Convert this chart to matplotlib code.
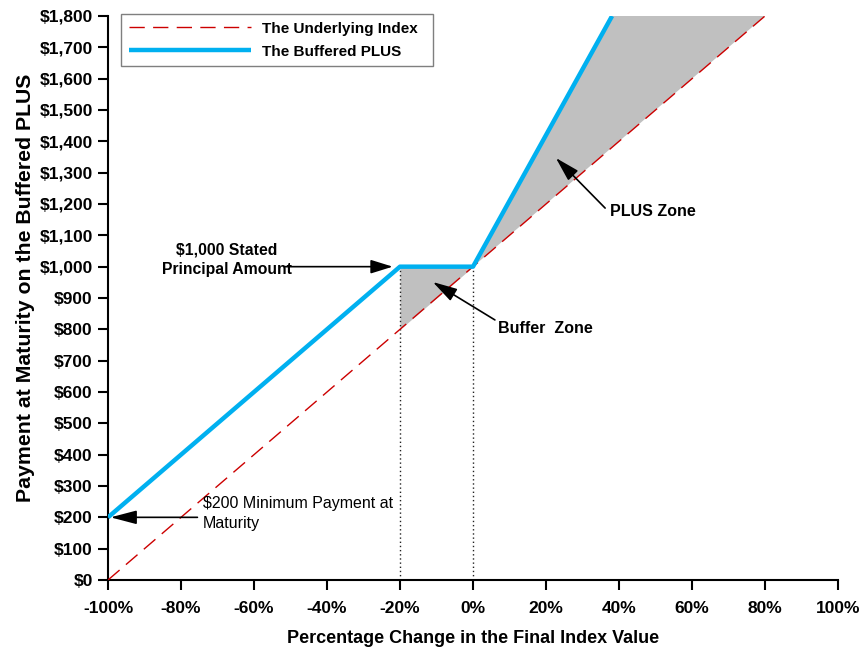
import matplotlib
matplotlib.use("Agg")
import matplotlib.pyplot as plt
from matplotlib.ticker import FuncFormatter

plt.rcParams['font.family'] = ['Liberation Sans', 'DejaVu Sans']

# Data
index_change = [-100, 80]            # % change in final index value
index_payment = [0, 1800]            # underlying index payment ($)
plus_change = [-100, -20, 0, 38.1]   # % change
plus_payment = [200, 1000, 1000, 1800]
buffer_x = [-20, 0]
xticks = [-100, -80, -60, -40, -20, 0, 20, 40, 60, 80, 100]
yticks = list(range(0, 1801, 100))

fig = plt.figure(figsize=(8.63, 6.52), dpi=100)
ax = fig.add_axes([108/863, 1-580/652, 730/863, (580-16)/652])

grey = '#C0C0C0'
# Buffer zone fill
ax.fill_between(buffer_x, [800, 1000], [1000, 1000], color=grey, lw=0, zorder=1)
# PLUS zone fill
ax.fill([0, 38.1, 80], [1000, 1800, 1800], color=grey, lw=0, zorder=1)

ax.plot(index_change, index_payment, color='#CC0000', lw=1.0,
        linestyle=(0, (11, 6)), label='The Underlying Index', zorder=3)
ax.plot(plus_change, plus_payment, color='#00B0F0', lw=3.2,
        solid_capstyle='butt', label='The Buffered PLUS', zorder=4)

for bx in buffer_x:
    ax.plot([bx, bx], [0, 1000], color='#222222', lw=1.0, linestyle=(0, (1, 2)), zorder=2)

ax.set_xlim(-100, 100)
ax.set_ylim(0, 1800)
ax.set_xticks(xticks)
ax.set_yticks(yticks)
ax.xaxis.set_major_formatter(FuncFormatter(lambda v, p: f"{int(v)}%"))
ax.yaxis.set_major_formatter(FuncFormatter(lambda v, p: f"${int(v):,}"))
for s in ['top', 'right']:
    ax.spines[s].set_visible(False)
for s in ['left', 'bottom']:
    ax.spines[s].set_linewidth(1.5)
ax.tick_params(direction='out', length=7, width=1.5, labelsize=12.5)
for lab in ax.get_xticklabels() + ax.get_yticklabels():
    lab.set_fontweight('bold')
ax.tick_params(axis='x', pad=8)
ax.tick_params(axis='y', pad=4)

ax.set_xlabel('Percentage Change in the Final Index Value', fontsize=13,
              fontweight='bold', labelpad=10)
ax.set_ylabel('Payment at Maturity on the Buffered PLUS', fontsize=15.3,
              fontweight='bold')
ax.yaxis.set_label_coords(-0.1, 0.518)

def arrow(hl=1.6):
    return dict(arrowstyle=f'-|>,head_length={hl},head_width=0.42', color='black',
                lw=1.2, mutation_scale=10, shrinkA=0, shrinkB=0)

# $1,000 Stated Principal Amount
ax.annotate('', xy=(-22, 1000), xytext=(-51.5, 1000), arrowprops=arrow(1.35), zorder=5)
ax.text(-67.5, 1022, '$1,000 Stated\nPrincipal Amount', ha='center', va='center',
        fontsize=11.3, fontweight='bold', linespacing=1.4)

# $200 Minimum Payment
ax.annotate('', xy=(-99.3, 200), xytext=(-75.5, 200), arrowprops=arrow(1.6), zorder=5)
ax.text(-74, 212, '$200 Minimum Payment at\nMaturity', ha='left', va='center',
        fontsize=11.5, linespacing=1.35)

# Buffer Zone
ax.annotate('', xy=(-11, 951), xytext=(6, 830), arrowprops=arrow(1.5), zorder=5)
ax.text(6.8, 804, 'Buffer  Zone', ha='left', va='center', fontsize=11.5,
        fontweight='bold')

# PLUS Zone
ax.annotate('', xy=(22.7, 1347), xytext=(36.2, 1187), arrowprops=arrow(1.5), zorder=5)
ax.text(37.5, 1175, 'PLUS Zone', ha='left', va='center', fontsize=11.5,
        fontweight='bold')

leg = ax.legend(loc='upper left',
                bbox_to_anchor=(121/863, 1-61/652, 312/863, 47/652),
                bbox_transform=fig.transFigure, mode='expand',
                fancybox=False, edgecolor='#7F7F7F', framealpha=1,
                handlelength=8.0, handletextpad=0.75,
                prop={'weight': 'bold', 'size': 11},
                borderaxespad=0, labelspacing=0.6, borderpad=0.5)
leg.get_frame().set_linewidth(1.0)

fig.savefig('out.png', dpi=100)
